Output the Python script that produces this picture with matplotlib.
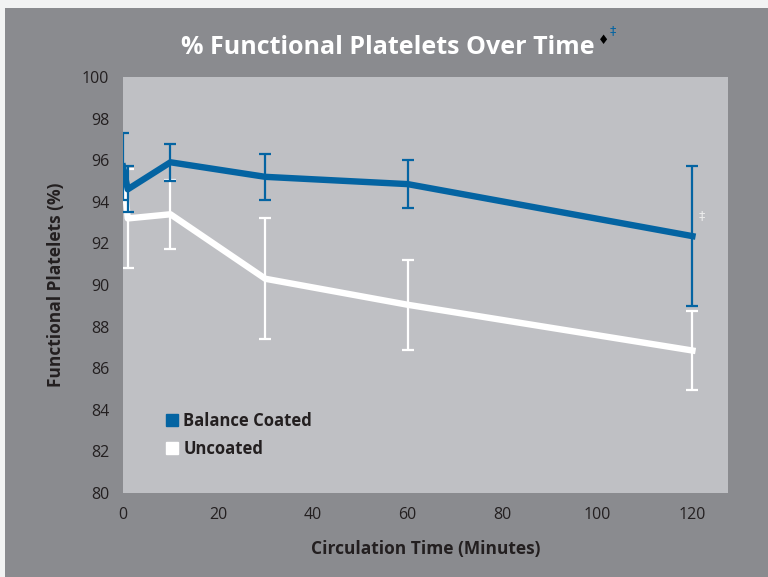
import matplotlib
matplotlib.use("Agg")
import matplotlib.pyplot as plt
from matplotlib.lines import Line2D
from matplotlib.patches import Rectangle

# Data
times = [0, 1, 10, 30, 60, 120]
coated = [95.7, 94.6, 95.9, 95.2, 94.85, 92.35]
coated_err = [1.6, 1.1, 0.9, 1.1, 1.15, 3.37]
uncoated = [95.6, 93.2, 93.4, 90.3, 89.05, 86.85]
uncoated_err = [0.0, 2.4, 1.66, 2.9, 2.17, 1.9]
series_labels = ["Balance Coated", "Uncoated"]
xticks = [0, 20, 40, 60, 80, 100, 120]
yticks = list(range(80, 101, 2))

BLUE = "#0464a2"
WHITE = "#ffffff"
PANEL = "#8a8b8f"
PLOTBG = "#bfc0c4"
OUTER = "#f2f3f3"
DARK = "#231f20"

plt.rcParams['font.family'] = ['Open Sans', 'DejaVu Sans']

fig = plt.figure(figsize=(7.68, 5.77), dpi=100, facecolor=OUTER)
fig.patches.append(Rectangle((5/768, 0), 1 - 5/768, (577 - 8)/577,
                             transform=fig.transFigure, facecolor=PANEL,
                             edgecolor='none', zorder=-5))

ax = fig.add_axes([123/768, (577-493)/577, (728-123)/768, (493-77)/577])
ax.set_zorder(1)
ax.set_facecolor(PLOTBG)
for s in ax.spines.values():
    s.set_visible(False)

ax.errorbar(times, uncoated, yerr=uncoated_err, color=WHITE, lw=4.6,
            elinewidth=1.6, capsize=4, capthick=1.6, zorder=2)
ax.errorbar(times, coated, yerr=coated_err, color=BLUE, lw=4.6,
            elinewidth=1.6, capsize=4, capthick=1.6, zorder=3)

ax.set_xlim(0, 127.5)
ax.set_ylim(80, 100)
ax.set_xticks(xticks)
ax.set_yticks(yticks)
ax.tick_params(length=0, labelsize=11.5, colors=DARK, pad=10)
ax.tick_params(axis='y', pad=10)

ax.set_xlabel("Circulation Time (Minutes)", fontsize=12.5, fontweight='bold',
              color=DARK, labelpad=12)
ax.set_ylabel("Functional Platelets (%)", fontsize=12.5, fontweight='bold',
              color=DARK, labelpad=12)

# Title
fig.text(388/768, 1 - 47/577, "% Functional Platelets Over Time",
         ha='center', va='center', fontsize=18, fontweight='bold', color=WHITE,
         zorder=5)
fig.text(609/768, 1 - 40/577, "\u2666", ha='right', va='center',
         fontsize=9, color='black', family=['DejaVu Sans'], zorder=5)
fig.text(610/768, 1 - 31/577, "\u2021", ha='left', va='center',
         fontsize=9, color=BLUE, family=['DejaVu Sans'], zorder=5)

# Dagger near 120
ax.annotate("\u2021", xy=(120, coated[-1]), xytext=(7, 15),
            textcoords='offset points', fontsize=9, color='#ececec',
            ha='center', va='center', family=['DejaVu Sans'])

handles = [Line2D([], [], marker='s', ls='none', color=BLUE, markersize=9),
           Line2D([], [], marker='s', ls='none', color=WHITE, markersize=9)]
ax.legend(handles, series_labels, loc='lower left', bbox_to_anchor=(0.042, 0.048),
          frameon=False, handletextpad=0.2, labelspacing=0.6,
          prop={'size': 12, 'weight': 'bold'}, labelcolor=DARK, handlelength=1.0)

fig.savefig("out.png", dpi=100, facecolor=OUTER)
